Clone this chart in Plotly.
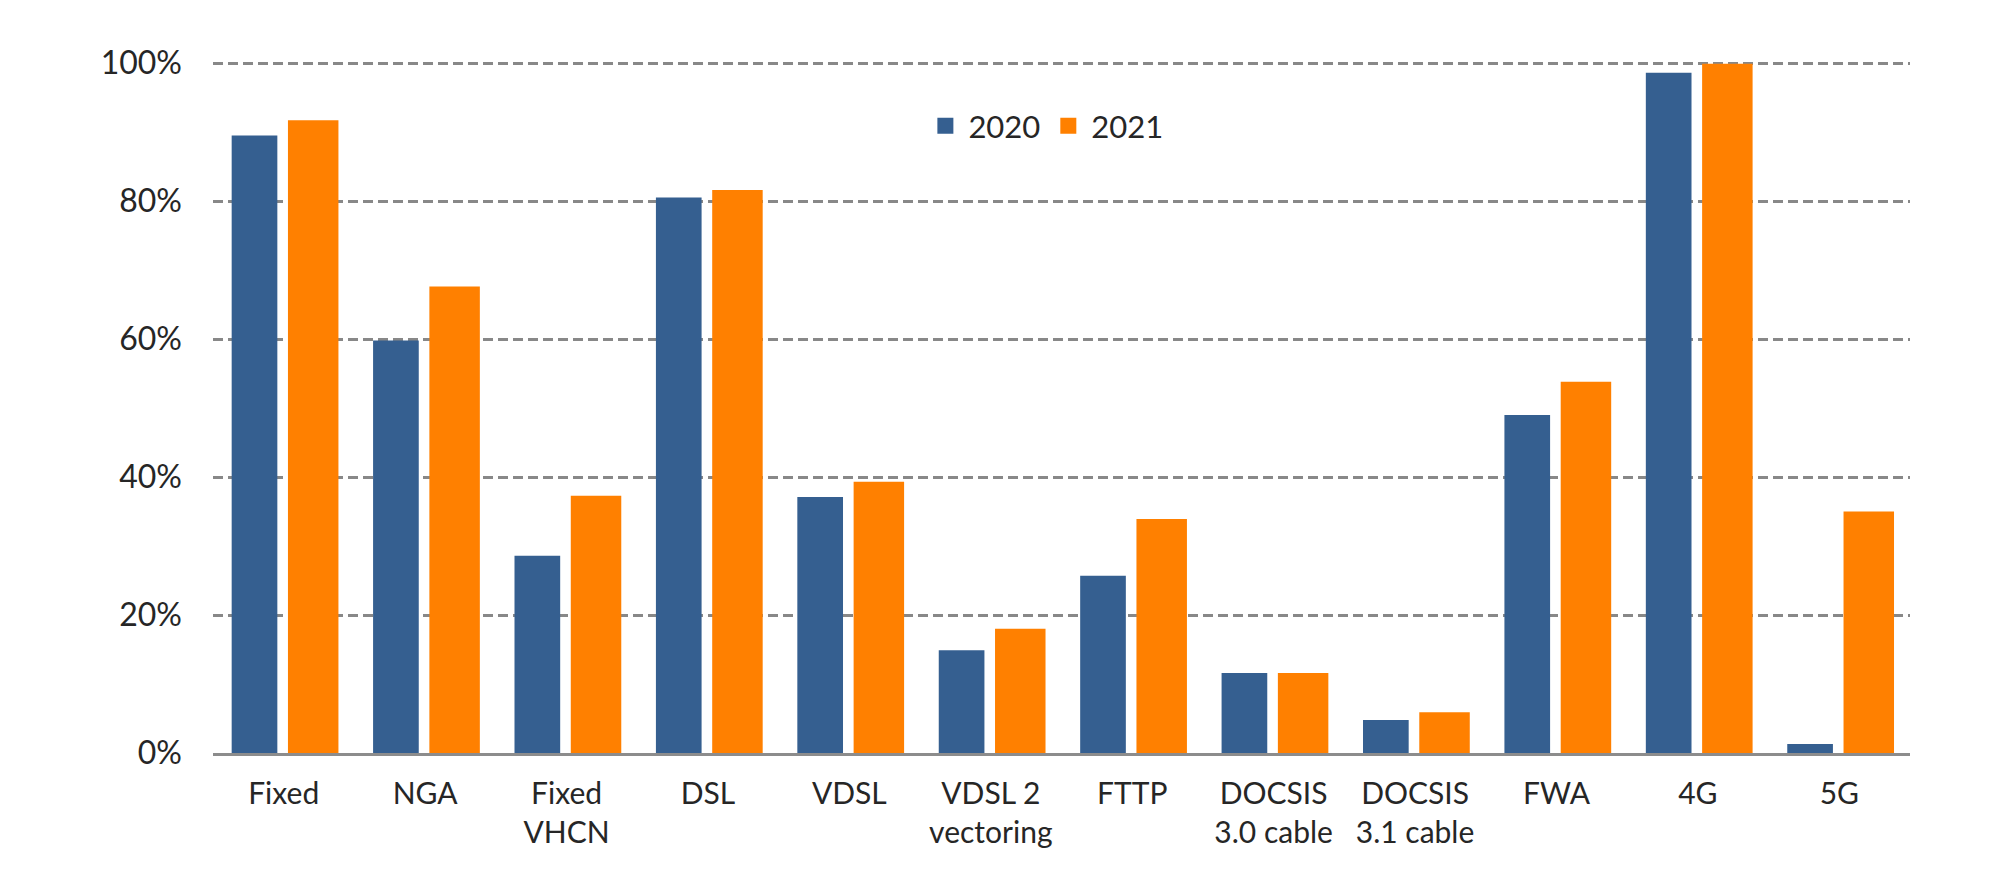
import plotly.graph_objects as go

categories = ["Fixed", "NGA", "Fixed<br>VHCN", "DSL", "VDSL", "VDSL 2<br>vectoring", "FTTP",
              "DOCSIS<br>3.0 cable", "DOCSIS<br>3.1 cable", "FWA", "4G", "5G"]
values_2020 = [0.895, 0.598, 0.286, 0.805, 0.371, 0.149, 0.257, 0.116, 0.048, 0.490, 0.986, 0.013]
values_2021 = [0.917, 0.676, 0.373, 0.816, 0.393, 0.180, 0.339, 0.116, 0.059, 0.538, 0.999, 0.350]
series_names = ["2020", "2021"]
tick_vals = [0, 0.2, 0.4, 0.6, 0.8, 1.0]
tick_text = ["0%", "20%", "40%", "60%", "80%", "100%"]

BLUE = "#355F90"
ORANGE = "#FF8000"
FONT = "Lato"
TXT = "#262626"
GRID = "#888888"

fig = go.Figure()
fig.add_trace(go.Bar(name=series_names[0], x=categories, y=values_2020,
                     width=0.323, offset=-0.368, showlegend=False,
                     marker=dict(color=BLUE, line=dict(width=0))))
fig.add_trace(go.Bar(name=series_names[1], x=categories, y=values_2021,
                     width=0.357, offset=0.030, showlegend=False,
                     marker=dict(color=ORANGE, line=dict(width=0))))
# legend entries with square swatches
for nm, col in zip(series_names, [BLUE, ORANGE]):
    fig.add_trace(go.Scatter(name=nm, x=[None], y=[None], mode="markers",
                             marker=dict(symbol="square", size=19, color=col), showlegend=True))

fig.update_layout(
    width=1989, height=888,
    paper_bgcolor="white", plot_bgcolor="white",
    margin=dict(l=205, r=87, t=53, b=143, autoexpand=False),
    barmode="overlay",
    font=dict(family=FONT, size=30, color=TXT),
    legend=dict(orientation="h", x=0.4905, y=0.906, xanchor="center", yanchor="middle",
                font=dict(family=FONT, size=31, color=TXT),
                itemwidth=36, traceorder="normal", bgcolor="rgba(0,0,0,0)",
                tracegroupgap=0),
    showlegend=True,
    shapes=[dict(type="line", xref="paper", yref="paper", x0=1.0483, x1=1.0483,
                 y0=-0.2, y1=1.1, line=dict(color="#3a3d30", width=3))],
)
fig.update_xaxes(
    showgrid=False, showline=True, linecolor="#8C8C8C", linewidth=3,
    ticks="", tickfont=dict(family=FONT, size=30, color=TXT),
    ticklabelstandoff=12, range=[-0.5, 11.5],
)
fig.update_yaxes(
    range=[0, 1.003], tickvals=tick_vals, ticktext=tick_text,
    showgrid=True, gridcolor=GRID, gridwidth=3, griddash="10px,5px",
    zeroline=False, showline=False, ticks="",
    tickfont=dict(family=FONT, size=32, color=TXT),
    ticklabelstandoff=30,
)
fig.write_html("out.html")
